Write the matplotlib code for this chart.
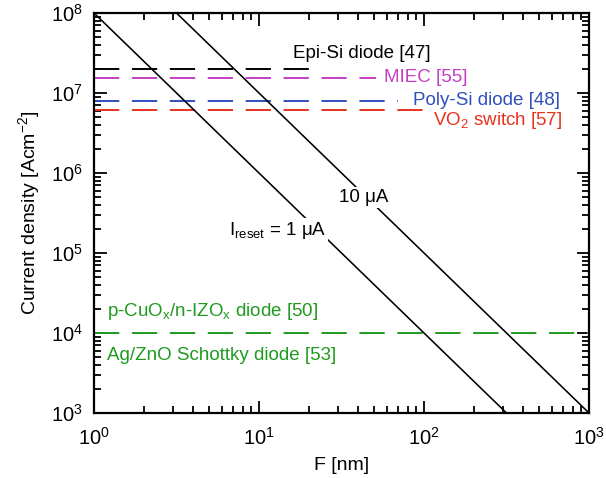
import matplotlib
matplotlib.use("Agg")
import matplotlib.pyplot as plt
from matplotlib.ticker import LogLocator, LogFormatterMathtext, NullFormatter

plt.rcParams['font.family'] = ['Liberation Sans', 'DejaVu Sans']
plt.rcParams['mathtext.fontset'] = 'custom'
plt.rcParams['mathtext.rm'] = 'Liberation Sans'
plt.rcParams['mathtext.it'] = 'Liberation Sans:italic'
plt.rcParams['mathtext.bf'] = 'Liberation Sans:bold'

# Reset-current lines (endpoints)
line1_F = [1.0, 316.2]
line1_J = [1e8, 1e3]
line2_F = [3.162, 1000.0]
line2_J = [1e8, 1e3]

# Selector devices: current density levels and extent
dev_names = ["Epi-Si diode [47]", "MIEC [55]", "Poly-Si diode [48]", "VO$_2$ switch [57]"]
dev_J = [2.0e7, 1.55e7, 8.0e6, 6.2e6]
dev_Fend = [20.0, 51.0, 70.0, 100.0]
dev_colors = ["#000000", "#c43fc4", "#2f4fbf", "#e8321e"]
dev_text_xy = [(16.0, 3.1e7), (57.0, 1.55e7), (86.0, 8.0e6), (114.0, 4.5e6)]

green_J = 1e4
green_F = [1.0, 1000.0]
green_color = "#1f9a1f"
green_labels = ["p-CuO$_\\mathrm{x}$/n-IZO$_\\mathrm{x}$ diode [50]", "Ag/ZnO Schottky diode [53]"]
green_text_xy = [(1.2, 1.85e4), (1.2, 5.2e3)]

fig = plt.figure(figsize=(6.06, 4.78), dpi=100)
ax = fig.add_axes([94/606, 1 - 413/478, 495/606, 400/478])

lw_dash = 1.4
dashes = (13, 6.5)
for J, Fe, c in zip(dev_J, dev_Fend, dev_colors):
    ax.plot([1.0, Fe], [J, J], color=c, lw=lw_dash, dashes=dashes, zorder=2)
ax.plot(green_F, [green_J, green_J], color=green_color, lw=lw_dash, dashes=dashes, zorder=2)

ax.plot(line1_F, line1_J, color='black', lw=1.15, zorder=3)
ax.plot(line2_F, line2_J, color='black', lw=1.15, zorder=3)

fs = 13.5
for name, (x, y), c in zip(dev_names, dev_text_xy, dev_colors):
    ax.text(x, y, name, color=c, fontsize=fs, ha='left', va='center', zorder=4)
for name, (x, y) in zip(green_labels, green_text_xy):
    ax.text(x, y, name, color=green_color, fontsize=fs, ha='left', va='center', zorder=4)

bb = dict(facecolor='white', edgecolor='none', pad=1.5)
ax.text(43.0, 5.0e5, "10 μA", fontsize=fs, ha='center', va='center', bbox=bb, zorder=5)
ax.text(12.9, 1.9e5, "I$_\\mathrm{reset}$ = 1 μA", fontsize=fs, ha='center', va='center', bbox=bb, zorder=5)

ax.set_xscale('log')
ax.set_yscale('log')
ax.set_xlim(1, 1000)
ax.set_ylim(1e3, 1e8)

ax.xaxis.set_major_locator(LogLocator(base=10))
ax.yaxis.set_major_locator(LogLocator(base=10))
ax.xaxis.set_minor_locator(LogLocator(base=10, subs=range(2, 10)))
ax.yaxis.set_minor_locator(LogLocator(base=10, subs=range(2, 10)))
ax.xaxis.set_major_formatter(LogFormatterMathtext())
ax.yaxis.set_major_formatter(LogFormatterMathtext())
ax.xaxis.set_minor_formatter(NullFormatter())
ax.yaxis.set_minor_formatter(NullFormatter())

ax.tick_params(which='both', direction='in', top=True, right=True, width=1.3, labelsize=14.5)
ax.tick_params(axis='y', which='major', length=9, pad=8)
ax.tick_params(axis='x', which='major', length=9, pad=10)
ax.tick_params(which='minor', length=5)
for s in ax.spines.values():
    s.set_linewidth(1.6)

ax.set_xlabel("F [nm]", fontsize=14, labelpad=6)
ax.set_ylabel("Current density [Acm$^{-2}$]", fontsize=14, labelpad=6)

fig.savefig("out.png", dpi=100)
